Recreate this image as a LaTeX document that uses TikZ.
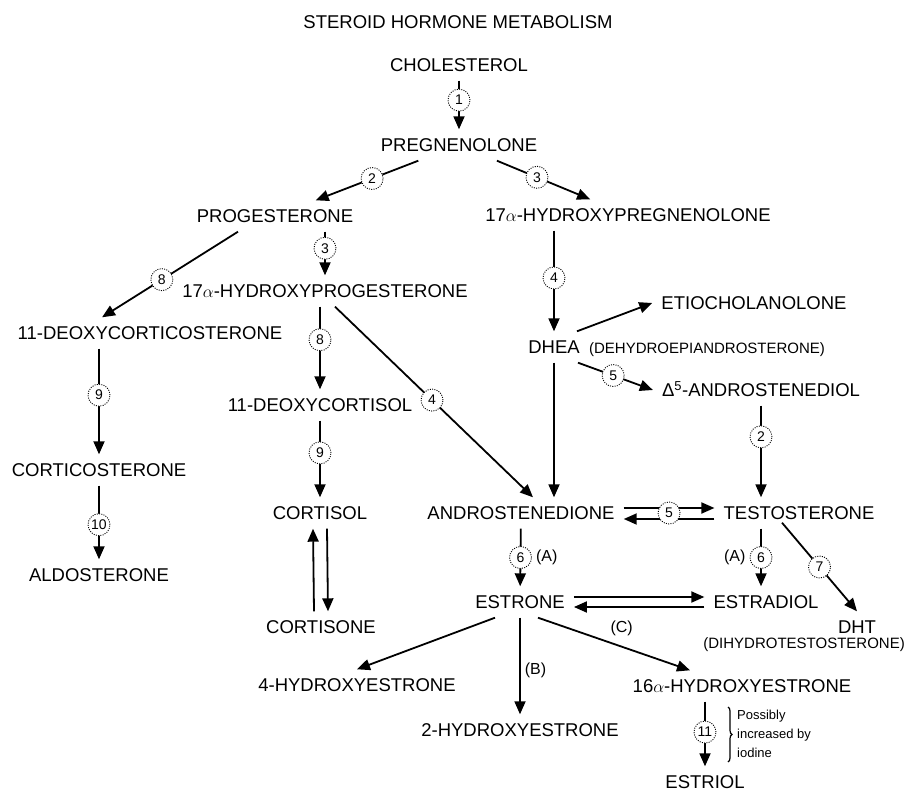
\documentclass[tikz,border=0pt]{standalone}
\usepackage{fontspec}
\setmainfont{Liberation Sans}
\usetikzlibrary{arrows.meta,positioning,calc,decorations.pathreplacing}

\begin{document}
\begin{tikzpicture}[x=1pt,y=-1pt,
	chem/.style={font=\fontsize{18.5}{22}\selectfont,inner xsep=9pt,inner ysep=9pt,text height=13pt,text depth=0pt},
	note/.style={font=\fontsize{15}{18}\selectfont,inner sep=0pt},
	tag/.style={font=\fontsize{16}{18}\selectfont,inner sep=0pt},
	enz/.style={circle,draw,dash pattern=on 1pt off 1.3pt,line width=0.9pt,fill=white,inner sep=0pt,minimum size=22pt,font=\fontsize{14}{14}\selectfont},
	arr/.style={line width=1.8pt,-{Triangle[length=13pt,width=11pt]}}]
	\fill[white] (0,0) rectangle (907,794);
	\useasboundingbox (0,0) rectangle (907,794);
	\node[chem] (title) at (458,22) {STEROID HORMONE METABOLISM};
	\node[chem] (chol) at (459,65) {CHOLESTEROL};
	\node[chem] (preg) at (459,145) {PREGNENOLONE};
	\node[chem] (prog) at (275,216) {PROGESTERONE};
	\node[chem] (hpreg) at (628,215) {17$\alpha$-HYDROXYPREGNENOLONE};
	\node[chem] (hprog) at (325,291) {17$\alpha$-HYDROXYPROGESTERONE};
	\node[chem] (doc) at (150,333) {11-DEOXYCORTICOSTERONE};
	\node[chem] (cort) at (99,470) {CORTICOSTERONE};
	\node[chem] (aldo) at (99,575) {ALDOSTERONE};
	\node[chem] (dcol) at (320,405) {11-DEOXYCORTISOL};
	\node[chem] (cisol) at (320,513) {CORTISOL};
	\node[chem] (cisone) at (321,627) {CORTISONE};
	\node[chem] (dhea) at (554,347) {DHEA};
	\node[note,anchor=base west] (dheaname) at (dhea.base east) {(DEHYDROEPIANDROSTERONE)};
	\node[chem] (etio) at (754,303) {ETIOCHOLANOLONE};
	\node[chem] (adiol) at (761,390) {Δ\textsuperscript{5}-ANDROSTENEDIOL};
	\node[chem] (andro) at (521,513) {ANDROSTENEDIONE};
	\node[chem] (testo) at (799,513) {TESTOSTERONE};
	\node[chem] (estrone) at (520,602) {ESTRONE};
	\node[chem] (estradiol) at (766,602) {ESTRADIOL};
	\node[chem] (dht) at (857,627) {DHT};
	\node[note,anchor=east] (dhtname) at (905,645) {(DIHYDROTESTOSTERONE)};
	\node[chem] (ohe4) at (357,685) {4-HYDROXYESTRONE};
	\node[chem] (ohe2) at (520,730) {2-HYDROXYESTRONE};
	\node[chem] (ohe16) at (742,686) {16$\alpha$-HYDROXYESTRONE};
	\node[chem] (estriol) at (705,782) {ESTRIOL};
	\draw[arr] (chol) -- node[enz,pos=0.4] {1} (preg);
	\draw[arr] (preg) -- node[enz,pos=0.45] {2} (prog);
	\draw[arr] (preg) -- node[enz,pos=0.43] {3} (hpreg);
	\draw[arr] (prog.south -| hprog) -- node[enz,pos=0.38] {3} (hprog);
	\draw[arr] ([xshift=-37pt]prog.south) -- node[enz,pos=0.56] {8} ([xshift=-48pt]doc.north);
	\draw[arr] (hpreg.south -| dhea) -- node[enz,pos=0.47] {4} (dhea);
	\draw[arr] (hprog.south -| dcol) -- node[enz,pos=0.4] {8} (dcol);
	\draw[arr] (dcol) -- node[enz,pos=0.42] {9} (cisol);
	\draw[arr] ([xshift=10pt]hprog.south) -- node[enz,pos=0.49] {4} ([xshift=12pt]andro.north);
	\draw[arr] (doc.south -| cort) -- node[enz,pos=0.44] {9} (cort);
	\draw[arr] (cort) -- node[enz,pos=0.53] {10} (aldo);
	\draw[arr] ([xshift=-7pt]cisone.north) -- ([xshift=-7pt]cisol.south);
	\draw[arr] ([xshift=7pt]cisol.south) -- ([xshift=7pt]cisone.north);
	\draw[arr] ([xshift=23pt]dhea.north) -- (etio.west);
	\draw[arr] ([xshift=24pt]dhea.south) -- node[enz,pos=0.47] {5} (adiol.west);
	\draw[arr] (dhea) -- (dhea |- andro.north);
	\draw[arr] (adiol) -- node[enz,pos=0.34] {2} (adiol |- testo.north);
	\draw[arr] ([yshift=5pt]andro.east) -- ([yshift=5pt]testo.west);
	\draw[arr] ([yshift=-6pt]testo.west) -- ([yshift=-6pt]andro.east);
	\node[enz] (e5) at ($(andro.east)!0.5!(testo.west)$) {5};
	\draw[arr] (andro) -- node[enz,pos=0.5] (e6a) {6} (estrone);
	\node[tag,right=4pt of e6a] (tagA1) {(A)};
	\draw[arr] (testo.south -| adiol) -- node[enz,pos=0.5] (e6b) {6} (adiol |- estradiol.north);
	\node[tag,left=4pt of e6b] (tagA2) {(A)};
	\draw[arr] ([xshift=-17pt,yshift=6pt]testo.south) -- node[enz,pos=0.5] {7} (dht.north);
	\draw[arr] ([yshift=5pt]estrone.east) -- ([yshift=5pt]estradiol.west);
	\draw[arr] ([yshift=-5pt]estradiol.west) -- ([yshift=-5pt]estrone.east);
	\draw[arr] ([xshift=-25pt]estrone.south) -- (ohe4.north);
	\draw[arr] (estrone) -- node[tag,right=4pt,pos=0.55] (tagB) {(B)} (ohe2);
	\draw[arr] ([xshift=18pt]estrone.south) -- node[tag,pos=0.55,above=10pt] (tagC) {(C)} ([xshift=-52pt]ohe16.north);
	\draw[arr] (ohe16.south -| estriol) -- node[enz,pos=0.47] {11} (estriol);
	\coordinate (bracetop) at (728,707);
	\coordinate (bracebot) at (728,762);
	\draw[line width=1.2pt,decorate,decoration={brace,amplitude=4pt}] (bracetop) -- (bracebot);
	\node[anchor=west,align=left,font=\fontsize{13}{19}\selectfont,inner sep=0pt] (iodine) at (737,734) {Possibly\\increased by\\iodine};
\end{tikzpicture}
\end{document}
